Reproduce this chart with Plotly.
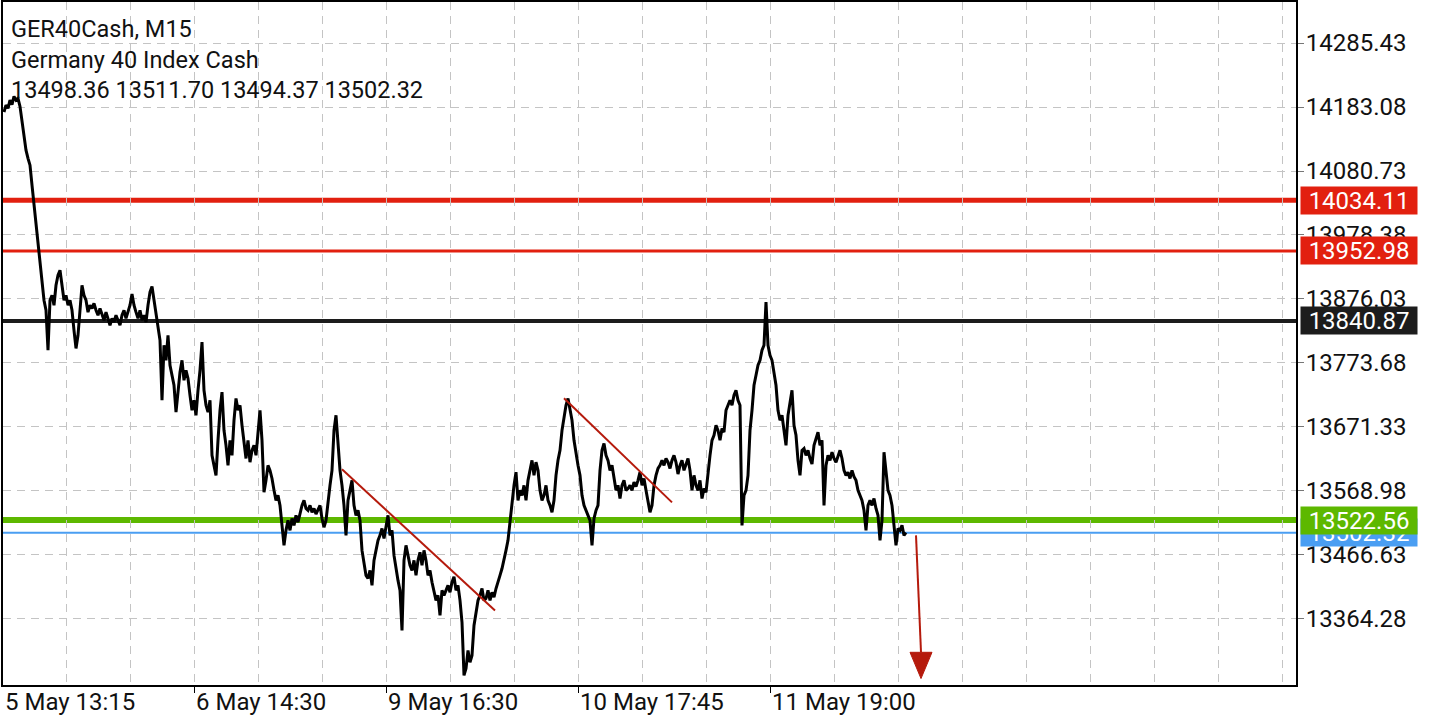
import plotly.graph_objects as go

# ---------------- data ----------------
symbol_line = "GER40Cash, M15"
name_line = "Germany 40 Index Cash"
last_ohlc = [13498.36, 13511.70, 13494.37, 13502.32]

closes = [
    14175, 14186, 14181, 14194, 14187, 14200, 14194, 14197, 14184,
    14162, 14138, 14114, 14101, 14090,
    14058, 14026, 13999, 13970,
    13935, 13898, 13874, 13858,
    13794,
    13874, 13882, 13866,
    13898, 13914, 13922, 13898,
    13874, 13882, 13866, 13874, 13858,
    13826, 13797, 13818,
    13858, 13898, 13882, 13874,
    13855, 13866, 13861, 13869, 13858, 13850, 13861,
    13850, 13842, 13855, 13845, 13834, 13845, 13839, 13850, 13842, 13834,
    13850, 13858, 13845, 13855, 13866,
    13884, 13866,
    13855, 13845, 13858, 13842, 13850, 13839,
    13866, 13887, 13896, 13874, 13858,
    13834, 13810, 13714,
    13802, 13778, 13818, 13770, 13754,
    13738, 13695, 13730,
    13759, 13778, 13746, 13762, 13749,
    13722, 13698, 13714, 13690,
    13730, 13762, 13807,
    13730, 13706, 13695, 13714,
    13626, 13610, 13594,
    13650, 13698, 13727, 13666,
    13642, 13610, 13650, 13626,
    13682, 13717, 13698, 13706, 13674,
    13642, 13621, 13650, 13615, 13634, 13642, 13626,
    13666, 13698, 13650,
    13567, 13586,
    13610, 13602, 13589,
    13570, 13554, 13562, 13546,
    13514, 13482, 13506,
    13522, 13506, 13525, 13514, 13530, 13519, 13535,
    13546, 13554, 13541,
    13538, 13546, 13535, 13541, 13532, 13538, 13546,
    13525, 13511, 13522,
    13554, 13578, 13602,
    13666, 13690, 13650,
    13602, 13578,
    13546, 13498, 13554, 13570,
    13586,
    13546, 13530, 13538, 13522,
    13474, 13450, 13434,
    13429, 13442, 13418,
    13458, 13474, 13490,
    13498, 13509, 13493,
    13514, 13530, 13498, 13506,
    13466, 13442,
    13426, 13410, 13346,
    13458, 13482, 13466, 13450,
    13442, 13458, 13434,
    13458, 13471, 13450, 13474, 13458,
    13434, 13442, 13423,
    13410, 13394, 13402, 13370, 13410,
    13402, 13410, 13418, 13407,
    13423, 13432, 13410, 13418,
    13394, 13359,
    13274, 13285, 13314, 13295, 13306,
    13354, 13378, 13394,
    13402, 13413, 13394, 13397,
    13410, 13394, 13407, 13399, 13413,
    13426, 13434, 13445,
    13458, 13474, 13490,
    13522, 13546,
    13578, 13599, 13554, 13570,
    13562, 13578, 13554,
    13586, 13602, 13618, 13594, 13615, 13602,
    13570, 13554, 13562, 13578,
    13554, 13546, 13535, 13554,
    13594, 13618, 13634,
    13666, 13690, 13706, 13717, 13698, 13682,
    13650, 13626, 13610, 13594,
    13562, 13546, 13538, 13530, 13522, 13482, 13525, 13538, 13546,
    13602,
    13634, 13645, 13626,
    13618, 13602, 13610,
    13586, 13570, 13578, 13557,
    13578, 13586, 13570,
    13573, 13578, 13570, 13583, 13576,
    13586, 13599, 13578, 13589,
    13570, 13554, 13535, 13546,
    13578, 13594, 13605, 13610,
    13618, 13610, 13621, 13615, 13605, 13618, 13626, 13615,
    13596,
    13610, 13618, 13602, 13610, 13621, 13602, 13570,
    13594, 13578, 13570, 13586, 13557, 13573, 13567,
    13602, 13626, 13650,
    13658, 13674, 13666, 13650, 13669, 13663,
    13698, 13706, 13714, 13706,
    13722, 13730, 13714, 13706,
    13514,
    13562, 13570, 13594,
    13666, 13698,
    13738, 13754, 13770, 13778,
    13794, 13802,
    13871,
    13802, 13786, 13778,
    13754, 13738,
    13698, 13682, 13690, 13663,
    13642,
    13690, 13714, 13730,
    13674, 13658,
    13618, 13594,
    13634, 13637, 13626, 13634,
    13621, 13612,
    13642, 13653, 13663, 13642, 13650,
    13546, 13610,
    13626, 13618, 13631, 13621, 13615,
    13626, 13634, 13621,
    13602, 13594, 13599, 13589, 13602, 13592, 13586,
    13570, 13562, 13554,
    13538, 13506, 13546,
    13554, 13546, 13557, 13541,
    13530, 13490, 13522,
    13631, 13602,
    13570, 13562, 13546,
    13514, 13482, 13509,
    13506, 13514, 13498, 13502.32,
]
bar_index = list(range(len(closes)))

price_ticks = [13364.28, 13466.63, 13568.98, 13671.33, 13773.68,
               13876.03, 13978.38, 14080.73, 14183.08, 14285.43]
time_tick_bars = [-1, 95, 191, 287, 383]
time_tick_labels = ["5 May 13:15", "6 May 14:30", "9 May 16:30",
                    "10 May 17:45", "11 May 19:00"]

levels = [14034.11, 13952.98, 13840.87, 13502.32, 13522.56]
level_colors = ["#e2200f", "#e2200f", "#1c1c1c", "#4a9ef2", "#5db800"]
level_widths = [5, 3, 4, 2, 6]

trend_lines = [((169, 13603.6), (245.5, 13378.0)),
               ((280, 13717.2), (334, 13550.8))]
arrow_start = (456, 13498.0)
arrow_end = (458.5, 13311.0)
arrow_tip = 13269.0

FONT = "Roboto"
TREND_COLOR = "#b51a0c"
X_RANGE = [-0.5, 646]

fig = go.Figure()

fig.add_trace(go.Scatter(
    x=bar_index, y=closes, mode="lines",
    line=dict(color="black", width=3),
    hoverinfo="skip", showlegend=False,
))

shapes = []
for lv, col, w in zip(levels, level_colors, level_widths):
    shapes.append(dict(type="line", xref="paper", yref="y", x0=0, x1=1,
                       y0=lv, y1=lv, line=dict(color=col, width=w),
                       layer="below"))
for (a, b) in trend_lines:
    shapes.append(dict(type="line", xref="x", yref="y", x0=a[0], y0=a[1],
                       x1=b[0], y1=b[1], line=dict(color=TREND_COLOR, width=2),
                       layer="above"))
shapes.append(dict(type="line", xref="x", yref="y", x0=arrow_start[0],
                   y0=arrow_start[1], x1=arrow_end[0], y1=arrow_end[1],
                   line=dict(color=TREND_COLOR, width=2), layer="above"))
shapes.append(dict(type="path", xref="x", yref="y",
                   path=f"M {arrow_end[0]-5.5},{arrow_end[1]} L {arrow_end[0]+5.5},{arrow_end[1]} "
                        f"L {arrow_end[0]},{arrow_tip} Z",
                   fillcolor=TREND_COLOR, line=dict(color=TREND_COLOR, width=1),
                   layer="above"))

annotations = []
# header text
annotations.append(dict(
    xref="paper", yref="paper", x=0, y=1, xanchor="left", yanchor="top",
    xshift=6, yshift=-11, align="left", showarrow=False,
    text=f"{symbol_line}<br>{name_line}<br>" + " ".join(f"{v:.2f}" for v in last_ohlc),
    font=dict(family=FONT, size=23.5, color="#111111"),
))
# time labels (left-aligned at their tick)
span = X_RANGE[1] - X_RANGE[0]
for pos, lab in zip(time_tick_bars, time_tick_labels):
    annotations.append(dict(
        xref="paper", yref="paper", x=max(0.0, (pos - X_RANGE[0]) / span), y=0,
        xanchor="left", yanchor="top", xshift=0, yshift=-1, showarrow=False,
        text=lab, font=dict(family=FONT, size=24, color="#111111"),
    ))
# price boxes
for lv, col in zip(levels, level_colors):
    annotations.append(dict(
        xref="paper", yref="y", x=1, y=lv, xanchor="left", yanchor="middle",
        xshift=4, showarrow=False, text=f"{lv:.2f}",
        font=dict(family=FONT, size=24, color="white"),
        bgcolor=col, width=112, height=23, borderpad=2, align="center",
    ))

fig.update_layout(
    width=1440, height=720,
    margin=dict(l=3, r=144, t=2, b=35, autoexpand=False),
    paper_bgcolor="white", plot_bgcolor="white",
    shapes=shapes, annotations=annotations,
    font=dict(family=FONT, size=24, color="#111111"),
    xaxis=dict(
        range=X_RANGE, showline=True, linecolor="black", linewidth=2,
        mirror=True, zeroline=False, automargin=False,
        tickmode="array", tickvals=time_tick_bars, showticklabels=False,
        ticks="outside", ticklen=6, tickcolor="black", tickwidth=1,
        showgrid=True, gridcolor="#c4c4c4", griddash="8px,6px", gridwidth=1,
        minor=dict(tick0=-1, dtick=32, showgrid=True, gridcolor="#c4c4c4",
                   griddash="8px,6px", gridwidth=1, ticks=""),
    ),
    yaxis=dict(
        range=[13258.7, 14351.0], side="right", showline=True, linecolor="black",
        linewidth=2, mirror=True, zeroline=False, automargin=False,
        tickmode="array", tickvals=price_ticks,
        ticktext=[f"{v:.2f}" for v in price_ticks],
        ticks="outside", ticklen=6, tickcolor="#777777", tickwidth=1,
        ticklabelstandoff=-3,
        tickfont=dict(family=FONT, size=24, color="#111111"),
        showgrid=True, gridcolor="#c4c4c4", griddash="8px,6px", gridwidth=1,
    ),
)

fig.write_html("out.html", config={"displayModeBar": False},
               post_script="document.body.style.margin='0';document.body.style.overflow='hidden';")
